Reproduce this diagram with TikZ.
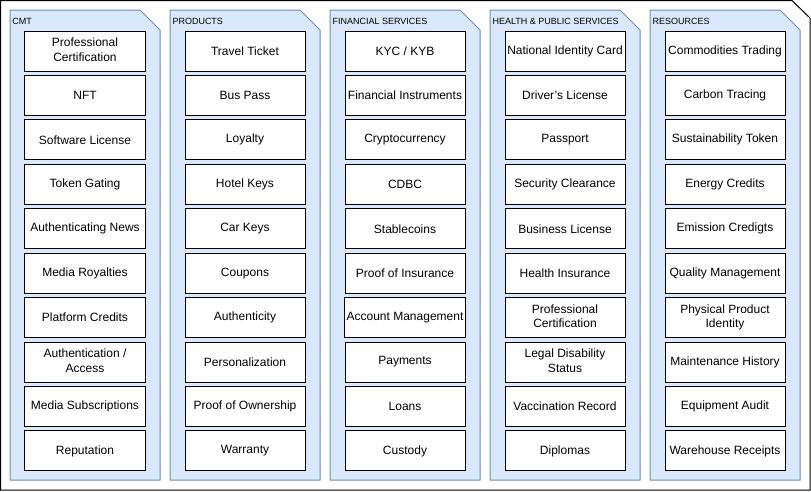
\documentclass[tikz,border=0pt]{standalone}
\usepackage{fontspec}
\setmainfont{Liberation Sans}
\usepackage{tikz}
\usetikzlibrary{matrix,calc}
\usepackage{xcolor}
\definecolor{cardfill}{HTML}{DAE8FC}
\definecolor{carddraw}{HTML}{6C8EBF}
\newcommand{\twoline}[2]{\begin{tabular}{@{}c@{}}#1\\#2\end{tabular}}

\begin{document}
\begin{tikzpicture}[x=1pt,y=-1pt,line width=1pt,
    card/.style={draw=carddraw,fill=cardfill},
    heading/.style={anchor=west,inner sep=0pt,font=\fontsize{9}{10}\selectfont},
    item/.style={draw=black,fill=white,minimum width=120pt,minimum height=40pt,
        inner sep=2pt,font=\fontsize{12}{14.5}\selectfont},
    column/.style={matrix of nodes,nodes={item},row sep=3.44pt,inner sep=0pt,anchor=north}]
    \useasboundingbox (0,0) rectangle (811,491);

    % outer frame with the folded corner
    \draw[fill=white] (0.5,0.5) -- (792,0.5) -- (810,18) -- (810,490) -- (0.5,490) -- cycle;

    % the five cards
    \draw[card] (10,10) -- (140,10) -- (160,30) -- (160,480) -- (10,480) -- cycle;
    \draw[card] (170,10) -- (300,10) -- (320,30) -- (320,480) -- (170,480) -- cycle;
    \draw[card] (330,10) -- (460,10) -- (480,30) -- (480,480) -- (330,480) -- cycle;
    \draw[card] (490,10) -- (620,10) -- (640,30) -- (640,480) -- (490,480) -- cycle;
    \draw[card] (650,10) -- (780,10) -- (800,30) -- (800,480) -- (650,480) -- cycle;

    \node[heading] (cmt title) at (12,21) {CMT};
    \node[heading] (products title) at (172,21) {PRODUCTS};
    \node[heading] (finance title) at (332,21) {FINANCIAL SERVICES};
    \node[heading] (health title) at (492,21) {HEALTH \& PUBLIC SERVICES};
    \node[heading] (resources title) at (652,21) {RESOURCES};

    \matrix (cmt) [column] at (85,30)
        {
        \twoline{Professional}{Certification} \\
        NFT \\
        Software License \\
        Token Gating \\
        Authenticating News \\
        Media Royalties \\
        Platform Credits \\
        \twoline{Authentication /}{Access} \\
        Media Subscriptions \\
        Reputation \\
        };

    \matrix (products) [column] at (245,30)
        {
        Travel Ticket \\
        Bus Pass \\
        Loyalty \\
        Hotel Keys \\
        Car Keys \\
        Coupons \\
        Authenticity \\
        Personalization \\
        Proof of Ownership \\
        Warranty \\
        };

    \matrix (finance) [column] at (405,30)
        {
        KYC / KYB \\
        Financial Instruments \\
        Cryptocurrency \\
        CDBC \\
        Stablecoins \\
        Proof of Insurance \\
        Account Management \\
        Payments \\
        Loans \\
        Custody \\
        };

    \matrix (health) [column] at (565,30)
        {
        National Identity Card \\
        Driver's License \\
        Passport \\
        Security Clearance \\
        Business License \\
        Health Insurance \\
        \twoline{Professional}{Certification} \\
        \twoline{Legal Disability}{Status} \\
        Vaccination Record \\
        Diplomas \\
        };

    \matrix (resources) [column] at (725,30)
        {
        Commodities Trading \\
        Carbon Tracing \\
        Sustainability Token \\
        Energy Credits \\
        Emission Credigts \\
        Quality Management \\
        \twoline{Physical Product}{Identity} \\
        Maintenance History \\
        Equipment Audit \\
        Warehouse Receipts \\
        };

\end{tikzpicture}
\end{document}
